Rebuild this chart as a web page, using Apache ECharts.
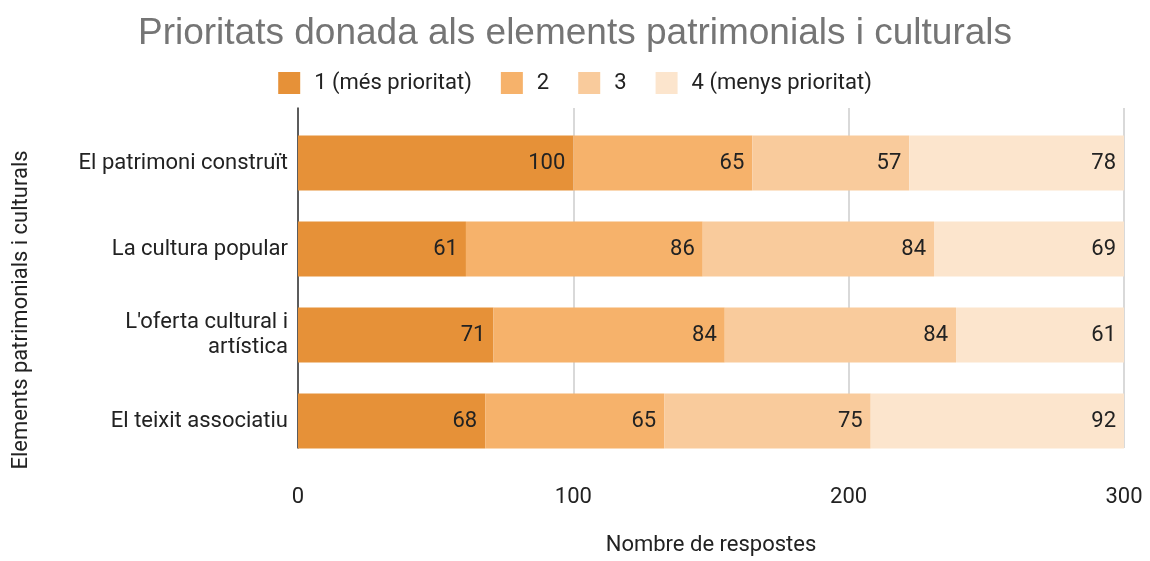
<!DOCTYPE html>
<html>
<head>
<meta charset="UTF-8">
<title>Prioritats</title>
<script src="https://cdn.jsdelivr.net/npm/echarts@6/dist/echarts.min.js"></script>
<style>body{margin:0;background:#fff}</style>
</head>
<body>
<div id="main" style="width:1150px;height:561px;"></div>
<script type="text/javascript">
var categories = ['El patrimoni construït', 'La cultura popular', "L'oferta cultural i\nartística", 'El teixit associatiu'];
var seriesNames = ['1 (més prioritat)', '2', '3', '4 (menys prioritat)'];
var p1 = [100, 61, 71, 68];
var p2 = [65, 86, 84, 65];
var p3 = [57, 84, 84, 75];
var p4 = [78, 69, 61, 92];
var colors = ['#e69138', '#f6b26b', '#f9cb9c', '#fce5cd'];
var xTicks = [0, 100, 200, 300];

var font = 'Roboto, Arial, sans-serif';
var values = [p1, p2, p3, p4];

var myChart = echarts.init(document.getElementById('main'));
var option = {
  animation: false,
  title: {
    text: 'Prioritats donada als elements patrimonials i culturals',
    left: 'center', top: 10,
    textStyle: { color: '#757575', fontSize: 37, fontWeight: 'normal', fontFamily: 'Liberation Sans, Arial, sans-serif' }
  },
  legend: {
    top: 67, left: 'center',
    icon: 'rect',
    itemWidth: 22, itemHeight: 22, itemGap: 29,
    data: seriesNames,
    textStyle: { color: '#222', fontSize: 22, fontFamily: font, padding: [0, 0, 0, 9] }
  },
  grid: [
    { left: 298, right: 26, top: 108, bottom: 83 },
    { left: 298, right: 26, top: 120, bottom: 97 }
  ],
  xAxis: [
    {
      gridIndex: 0, type: 'value', min: 0, max: 300, interval: 100,
      name: 'Nombre de respostes', nameLocation: 'middle', nameGap: 86,
      nameTextStyle: { color: '#222', fontSize: 22, fontFamily: font },
      axisLine: { show: false }, axisTick: { show: false },
      axisLabel: { color: '#222', fontSize: 22, fontFamily: font, margin: 38,
        formatter: function (v) { return xTicks.indexOf(v) >= 0 ? String(v) : ''; } },
      splitLine: { lineStyle: { color: '#cccccc', width: 1.5 } }
    },
    {
      gridIndex: 1, type: 'value', min: 0, max: 300, interval: 100, show: false
    }
  ],
  yAxis: [
    {
      gridIndex: 0, type: 'category', data: [''],
      name: 'Elements patrimonials i culturals', nameLocation: 'middle', nameGap: 266, nameRotate: 90,
      nameTextStyle: { color: '#222', fontSize: 22, fontFamily: font, padding: [0, 64, 0, 0] },
      axisLine: { lineStyle: { color: '#333', width: 1.5 } },
      axisTick: { show: false }, axisLabel: { show: false }
    },
    {
      gridIndex: 1, type: 'category', data: categories, inverse: true,
      axisLine: { show: false }, axisTick: { show: false },
      axisLabel: { color: '#222', fontSize: 22, fontFamily: font, margin: 10, lineHeight: 25, align: 'right' }
    }
  ],
  series: values.map(function (d, i) {
    return {
      name: seriesNames[i], type: 'bar', stack: 'total',
      xAxisIndex: 1, yAxisIndex: 1,
      barWidth: 55,
      data: d,
      itemStyle: { color: colors[i] },
      label: {
        show: true, position: 'insideRight', distance: 8,
        color: '#222', fontSize: 22, fontFamily: font
      }
    };
  })
};
myChart.setOption(option);
</script>
</body>
</html>
